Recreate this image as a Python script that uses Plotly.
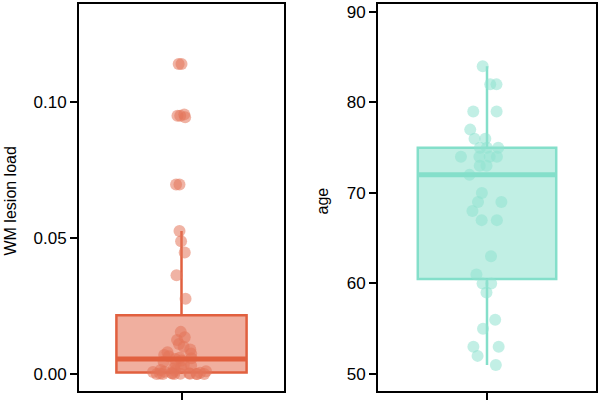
import numpy as np
import plotly.graph_objects as go

# ---- data ----
wm_lesion_load = [
    0.0, 0.0, 0.0, 0.0, 0.0, 0.0, 0.0001, 0.0001, 0.0002, 0.0002, 0.0003, 0.0004,
    0.0005, 0.0007, 0.0008, 0.0010, 0.0012, 0.0015, 0.0020, 0.0025, 0.0030,
    0.0035, 0.0040, 0.0045, 0.0050, 0.0055, 0.0058, 0.0060, 0.0065, 0.0070,
    0.0075, 0.0080, 0.0090, 0.0100, 0.0110, 0.0125, 0.0135, 0.0155, 0.0277,
    0.0363, 0.0447, 0.0488, 0.0526, 0.0697, 0.0697, 0.0944, 0.0950, 0.0950,
    0.0955, 0.1140, 0.1140,
]
age = [
    84, 82, 82, 79, 79, 77, 76, 76, 75, 75, 75, 74, 74, 74, 74, 73, 73, 72,
    70, 69, 69, 68, 67, 67, 63, 61, 60, 60, 59, 56, 55, 53, 53, 52, 51,
]
wm_ticks = [0.0, 0.05, 0.10]
wm_ticktext = ["0.00", "0.05", "0.10"]
age_ticks = [50, 60, 70, 80, 90]
age_ticktext = ["50", "60", "70", "80", "90"]

RED = "#E1603F"
TEAL = "#84DFCA"
FONT = "Liberation Sans, Arial, sans-serif"
BOX_W = 0.635

fig = go.Figure()


def tukey_stats(vals):
    v = np.asarray(vals, dtype=float)
    q1, med, q3 = np.percentile(v, [25, 50, 75])  # same as R type 7
    iqr = q3 - q1
    lo = v[v >= q1 - 1.5 * iqr].min()
    hi = v[v <= q3 + 1.5 * iqr].max()
    return q1, med, q3, lo, hi


def add_box(vals, color, fill, mcolor, xa, ya):
    q1, med, q3, lo, hi = tukey_stats(vals)
    # the box (ggplot-style quartiles)
    fig.add_trace(go.Box(
        x=[0], q1=[q1], median=[med], q3=[q3], lowerfence=[lo], upperfence=[hi],
        width=BOX_W, xaxis=xa, yaxis=ya, boxpoints=False, whiskerwidth=0,
        line=dict(color=color, width=2.5), fillcolor=fill,
        showlegend=False, hoverinfo="skip",
    ))
    fig.add_shape(type="line", xref=xa, yref=ya,
                  x0=-BOX_W / 2, x1=BOX_W / 2, y0=med, y1=med,
                  line=dict(color=color, width=5))
    # jittered sample points (box itself invisible)
    fig.add_trace(go.Box(
        y=vals, x0=0, width=BOX_W, xaxis=xa, yaxis=ya,
        boxpoints="all", jitter=0.45, pointpos=0, whiskerwidth=0,
        line=dict(color="rgba(0,0,0,0)", width=0),
        fillcolor="rgba(0,0,0,0)",
        marker=dict(color=mcolor, size=12, opacity=0.55, line=dict(width=0)),
        showlegend=False,
    ))


add_box(wm_lesion_load, RED, "rgba(225,96,63,0.5)", "#E4745A", "x", "y")
add_box(age, TEAL, "rgba(132,223,202,0.5)", "#8FE2CF", "x2", "y2")

ax_common = dict(showline=True, linecolor="black", linewidth=2, mirror=True,
                 ticks="outside", ticklen=7, tickwidth=1.5, tickcolor="black",
                 showgrid=False, zeroline=False,
                 tickfont=dict(family=FONT, size=17, color="black"))

fig.update_layout(
    width=600, height=403,
    margin=dict(l=0, r=0, t=0, b=0),
    paper_bgcolor="white", plot_bgcolor="white",
    xaxis=dict(domain=[79 / 600, 284 / 600], range=[-0.5, 0.5],
               tickvals=[0], ticktext=[""], **ax_common),
    xaxis2=dict(domain=[378 / 600, 596 / 600], range=[-0.5, 0.5],
                tickvals=[0], ticktext=[""], anchor="y2", **ax_common),
    yaxis=dict(domain=[12 / 403, 399 / 403], range=[-0.00625, 0.1361],
               tickvals=wm_ticks, ticktext=wm_ticktext, anchor="x", **ax_common),
    yaxis2=dict(domain=[12 / 403, 399 / 403], range=[48.12, 90.88],
                tickvals=age_ticks, ticktext=age_ticktext, anchor="x2", **ax_common),
    annotations=[
        dict(text="WM lesion load", textangle=-90, x=10 / 600, y=0.5,
             xref="paper", yref="paper", xanchor="center", yanchor="middle",
             showarrow=False, font=dict(family=FONT, size=16, color="black")),
        dict(text="age", textangle=-90, x=322 / 600, y=0.5,
             xref="paper", yref="paper", xanchor="center", yanchor="middle",
             showarrow=False, font=dict(family=FONT, size=16, color="black")),
    ],
)

fig.write_html("out.html", config={"displayModeBar": False},
               post_script="document.body.style.margin='0px';")
